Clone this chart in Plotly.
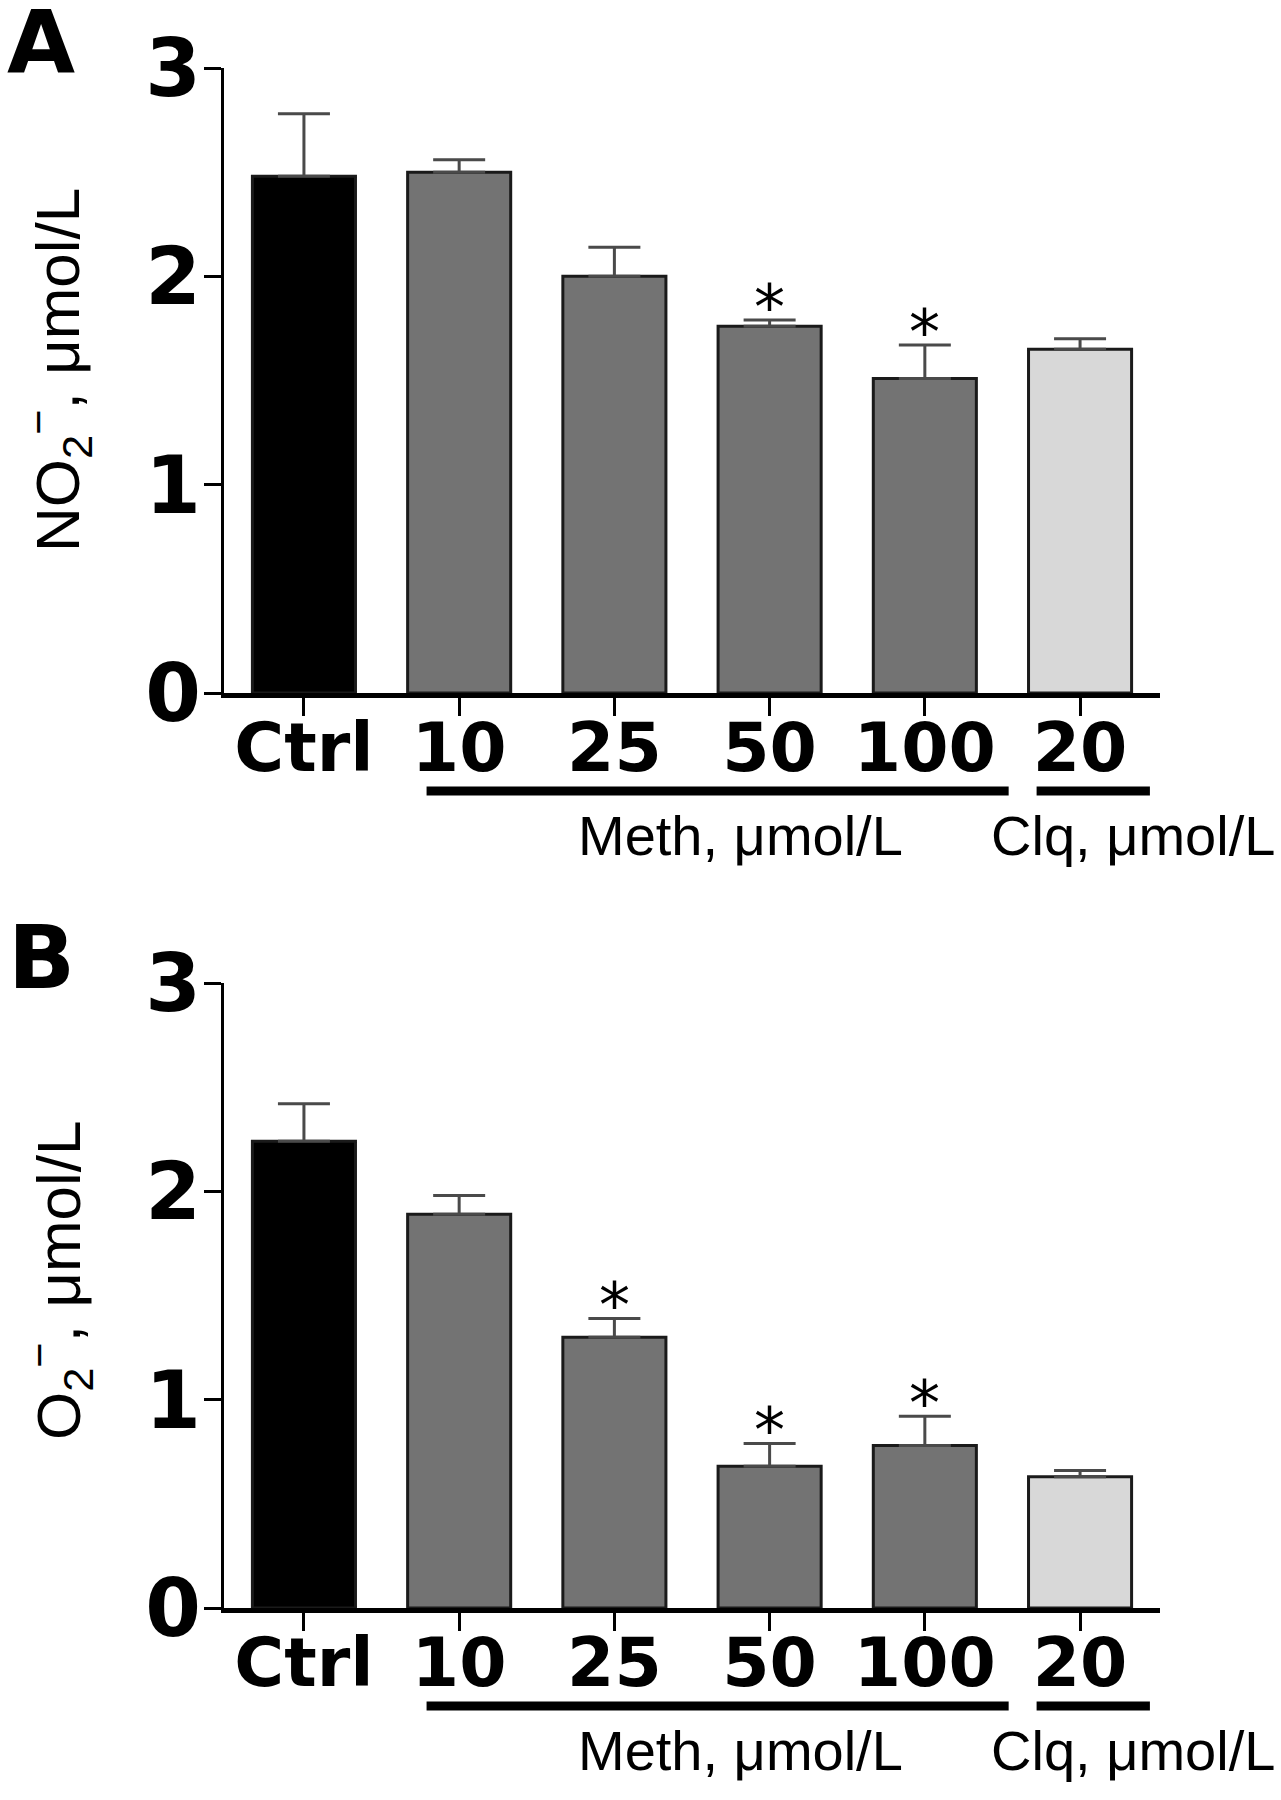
import plotly.graph_objects as go

# ---------------- data ----------------
categories = ["Ctrl", "10", "25", "50", "100", "20"]
no2_mean = [2.48, 2.50, 2.00, 1.76, 1.51, 1.65]
no2_sem = [0.30, 0.06, 0.14, 0.03, 0.16, 0.05]
no2_sig = [False, False, False, True, True, False]
o2_mean = [2.24, 1.89, 1.30, 0.68, 0.78, 0.63]
o2_sem = [0.18, 0.09, 0.09, 0.11, 0.14, 0.03]
o2_sig = [False, False, True, True, True, False]
y_ticks = [0, 1, 2, 3]
group_labels = ["Meth, μmol/L", "Clq, μmol/L"]
group_line_start = [0.79, 4.72]
group_line_end = [4.54, 5.45]
group_label_x = [2.81, 5.34]

# ---------------- style ----------------
W, H = 1281, 1800
bar_colors = ["#000000", "#737373", "#737373", "#737373", "#737373", "#d8d8d8"]
TICK_FONT = dict(family="DejaVu Sans", size=68, color="black", weight="bold")
YTICK_FONT = dict(family="DejaVu Sans", size=80, color="black", weight="bold")
TITLE_FONT = dict(family="Liberation Sans, Arial", size=62, color="black")
GROUP_FONT = dict(family="Liberation Sans, Arial", size=56, color="black")


def py(p):
    return 1 - p / H


panels = [
    dict(mean=no2_mean, sem=no2_sem, sig=no2_sig, xa="x", ya="y",
         title="NO<sub>2</sub><sup>−</sup>, μmol/L", top=68, bottom=693,
         letter="A", letter_x=41, title_y=370),
    dict(mean=o2_mean, sem=o2_sem, sig=o2_sig, xa="x2", ya="y2",
         title="O<sub>2</sub><sup>−</sup>, μmol/L", top=983, bottom=1608,
         letter="B", letter_x=41, title_y=1280),
]

fig = go.Figure()
annotations = []
shapes = []
layout = {}

for i, p in enumerate(panels):
    sfx = "" if i == 0 else str(i + 1)
    ax = p["bottom"]
    fig.add_trace(go.Bar(
        x=categories, y=p["mean"], xaxis=p["xa"], yaxis=p["ya"],
        width=0.664,
        marker=dict(color=bar_colors, line=dict(color="#1a1a1a", width=3)),
        error_y=dict(type="data", array=p["sem"], arrayminus=[0] * len(p["sem"]),
                     symmetric=False, color="#4a4a4a", thickness=3, width=26),
        showlegend=False,
    ))
    layout["xaxis" + sfx] = dict(
        domain=[224 / W, 1160 / W], range=[-0.515, 5.515], type="category",
        anchor=p["ya"], showline=True, linewidth=5, linecolor="black",
        ticks="outside", ticklen=18, tickwidth=3, tickcolor="black",
        tickfont=TICK_FONT, ticklabelstandoff=-27,
        showgrid=False, zeroline=False, automargin=False,
    )
    layout["yaxis" + sfx] = dict(
        domain=[py(p["bottom"]), py(p["top"])], range=[0, 3], tickvals=y_ticks,
        anchor=p["xa"], showline=True, linewidth=3, linecolor="black",
        ticks="outside", ticklen=17, tickwidth=3, tickcolor="black",
        tickfont=YTICK_FONT, ticklabelstandoff=-13,
        showgrid=False, zeroline=False, automargin=False,
    )
    # y-axis title
    annotations.append(dict(
        x=58 / W, y=py(p["title_y"]), xref="paper", yref="paper",
        text=p["title"], textangle=-90, showarrow=False,
        xanchor="center", yanchor="middle", font=TITLE_FONT,
    ))
    # significance asterisks
    for k, (m, s, g) in enumerate(zip(p["mean"], p["sem"], p["sig"])):
        if g:
            annotations.append(dict(
                x=k, y=m + s, xref=p["xa"], yref=p["ya"], text="*",
                showarrow=False, xanchor="center", yanchor="bottom", yshift=-26,
                font=dict(family="DejaVu Sans", size=62, color="black"),
            ))
    # group underlines and labels
    for lbl, x0, x1, lx in zip(group_labels, group_line_start, group_line_end, group_label_x):
        shapes.append(dict(type="line", xref=p["xa"], yref="paper",
                           x0=x0, x1=x1, y0=py(ax + 98), y1=py(ax + 98),
                           line=dict(color="black", width=9)))
        annotations.append(dict(
            x=lx, y=py(ax + 142), xref=p["xa"], yref="paper", text=lbl,
            showarrow=False, xanchor="center", yanchor="middle", font=GROUP_FONT,
        ))
    # panel letter (box kept inside the page)
    annotations.append(dict(
        x=p["letter_x"] / W, y=py(ax - 648 - 56), xref="paper", yref="paper",
        text="<b>" + p["letter"] + "</b>", showarrow=False,
        xanchor="center", yanchor="top",
        font=dict(family="DejaVu Sans", size=88, color="black"),
    ))

fig.update_layout(
    width=W, height=H, margin=dict(l=0, r=0, t=0, b=0),
    paper_bgcolor="white", plot_bgcolor="white",
    annotations=annotations, shapes=shapes, **layout,
)
fig.write_html("out.html", config={"displayModeBar": False},
               post_script="document.body.style.margin='0px';")
